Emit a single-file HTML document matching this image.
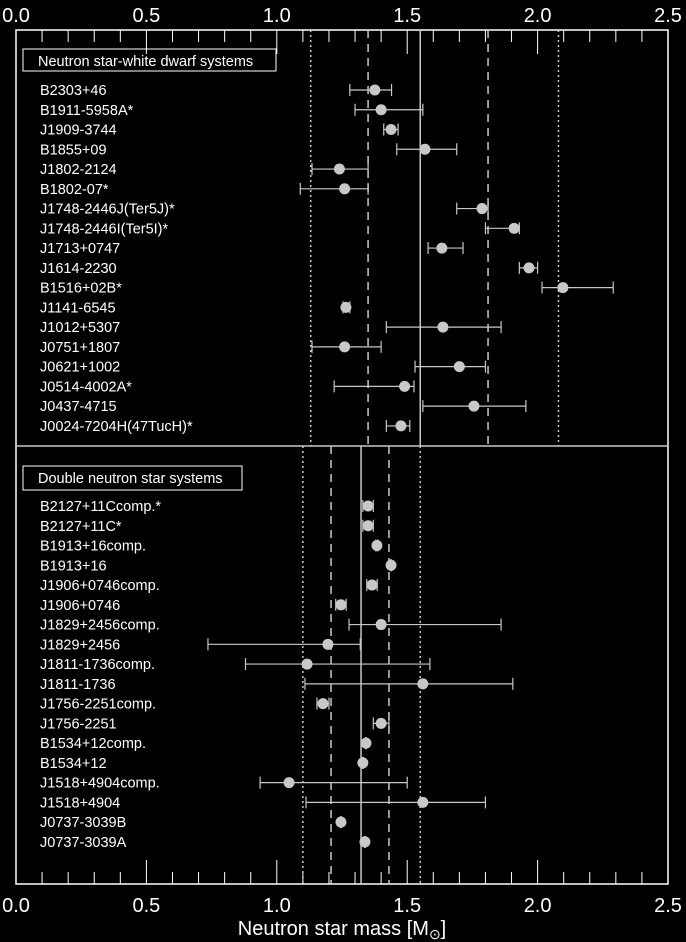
<!DOCTYPE html>
<html><head><meta charset="utf-8"><style>
html,body{margin:0;padding:0;background:#000;}
svg{display:block;font-family:"Liberation Sans",sans-serif;}
</style></head><body>
<svg id="chart" width="686" height="942" viewBox="0 0 686 942"></svg>
<script>
const topNames=["B2303+46","B1911-5958A*","J1909-3744","B1855+09","J1802-2124","B1802-07*","J1748-2446J(Ter5J)*","J1748-2446I(Ter5I)*","J1713+0747","J1614-2230","B1516+02B*","J1141-6545","J1012+5307","J0751+1807","J0621+1002","J0514-4002A*","J0437-4715","J0024-7204H(47TucH)*"];
const topMass=[1.376,1.40,1.438,1.568,1.24,1.26,1.787,1.91,1.633,1.967,2.097,1.265,1.637,1.26,1.70,1.49,1.756,1.476];
const topLo=[1.28,1.30,1.41,1.46,1.135,1.09,1.69,1.80,1.58,1.93,2.017,1.254,1.42,1.135,1.53,1.22,1.56,1.42];
const topHi=[1.44,1.56,1.465,1.69,1.35,1.35,1.81,1.93,1.714,2.00,2.29,1.28,1.86,1.40,1.80,1.526,1.955,1.51];
const botNames=["B2127+11Ccomp.*","B2127+11C*","B1913+16comp.","B1913+16","J1906+0746comp.","J1906+0746","J1829+2456comp.","J1829+2456","J1811-1736comp.","J1811-1736","J1756-2251comp.","J1756-2251","B1534+12comp.","B1534+12","J1518+4904comp.","J1518+4904","J0737-3039B","J0737-3039A"];
const botMass=[1.35,1.35,1.384,1.438,1.365,1.246,1.40,1.196,1.116,1.56,1.177,1.40,1.342,1.33,1.047,1.56,1.246,1.338];
const botLo=[1.33,1.33,1.38,1.436,1.345,1.226,1.277,0.736,0.88,1.108,1.154,1.37,1.34,1.328,0.936,1.112,1.244,1.336];
const botHi=[1.37,1.37,1.388,1.44,1.385,1.266,1.86,1.32,1.587,1.905,1.20,1.43,1.344,1.332,1.50,1.80,1.248,1.34];
const topRefs={solid:[1.55],dashed:[1.35,1.81],dotted:[1.13,2.08]};
const botRefs={solid:[1.323],dashed:[1.208,1.43],dotted:[1.10,1.55]};
const tickLabels=["0.0","0.5","1.0","1.5","2.0","2.5"];
const tickVals=[0,0.5,1.0,1.5,2.0,2.5];

const svg=document.getElementById('chart');
const NS="http://www.w3.org/2000/svg";
const X0=16,X1=668,Y0=30,Y1=884,YM=446;
const xs=v=>X0+(X1-X0)*v/2.5;
function mk(t,a,parent){const e=document.createElementNS(NS,t);for(const k in a)e.setAttribute(k,a[k]);(parent||svg).appendChild(e);return e;}
const G='#c8c8c8';
let f=mk('rect',{x:X0,y:Y0,width:X1-X0,height:Y1-Y0,fill:'none',stroke:'#fff','stroke-width':1.5});


let d=mk('line',{x1:X0,x2:X1,y1:YM,y2:YM,stroke:G,'stroke-width':1.5});


for(let i=0;i<=25;i++){const v=i/10,x=xs(v),L=(i%5==0)?24:12;
 let t1=mk('line',{x1:x,x2:x,y1:Y0,y2:Y0+L,stroke:'#fff','stroke-width':1});
 
 
 let t2=mk('line',{x1:x,x2:x,y1:Y1,y2:Y1-L,stroke:'#fff','stroke-width':1});
 
 }
tickVals.forEach((v,i)=>{
 let a=mk('text',{x:xs(v),y:22,fill:'#fff','font-size':20,'text-anchor':'middle'});a.textContent=tickLabels[i];
 
 
 let b=mk('text',{x:xs(v),y:912,fill:'#fff','font-size':20,'text-anchor':'middle'});b.textContent=tickLabels[i];
 
 
});
let xt=mk('text',{x:342,y:935,fill:'#fff','font-size':20,'text-anchor':'middle'});
xt.innerHTML='Neutron star mass [M<tspan font-size="14" dy="4">⊙</tspan><tspan dy="-4">]</tspan>';


function refs(r,ya,yb,tag){
 r.solid.forEach(v=>{let l=mk('line',{x1:xs(v),x2:xs(v),y1:ya,y2:yb,stroke:G,'stroke-width':1.5});});
 r.dashed.forEach(v=>{let l=mk('line',{x1:xs(v),x2:xs(v),y1:ya,y2:yb,stroke:G,'stroke-width':1.5,'stroke-dasharray':'8,6'});});
 r.dotted.forEach(v=>{let l=mk('line',{x1:xs(v),x2:xs(v),y1:ya,y2:yb,stroke:G,'stroke-width':1.5,'stroke-dasharray':'2,3'});});
}
refs(topRefs,Y0,YM,'nswd');refs(botRefs,YM,Y1,'dns');
function panel(names,m,lo,hi,y0,dy,tag){
 names.forEach((n,i)=>{const y=y0+i*dy;
  let t=mk('text',{x:40,y:y+5,fill:'#fff','font-size':14.5});t.textContent=n;
  
  
  const g=mk('g',{});
  
  
  mk('line',{x1:xs(lo[i]),x2:xs(hi[i]),y1:y,y2:y,stroke:G,'stroke-width':1.2},g);
  mk('line',{x1:xs(lo[i]),x2:xs(lo[i]),y1:y-6,y2:y+6,stroke:G,'stroke-width':1.2},g);
  mk('line',{x1:xs(hi[i]),x2:xs(hi[i]),y1:y-6,y2:y+6,stroke:G,'stroke-width':1.2},g);
  mk('circle',{cx:xs(m[i]),cy:y,r:5.5,fill:'#c8c8c8'},g);
 });
}
panel(topNames,topMass,topLo,topHi,90,19.76,'nswd');
panel(botNames,botMass,botLo,botHi,506,19.76,'dns');
let l1=mk('rect',{x:23,y:49,width:253,height:22,fill:'none',stroke:'#fff','stroke-width':1});


let l1t=mk('text',{x:38,y:66,fill:'#fff','font-size':14.5});l1t.textContent='Neutron star-white dwarf systems';


let l2=mk('rect',{x:23,y:466,width:219,height:24,fill:'none',stroke:'#fff','stroke-width':1});


let l2t=mk('text',{x:38,y:483,fill:'#fff','font-size':14.5});l2t.textContent='Double neutron star systems';


</script>
</body></html>
